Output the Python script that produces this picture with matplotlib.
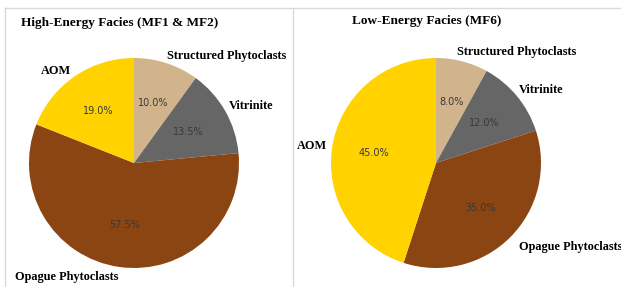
import matplotlib
matplotlib.use("Agg")
import matplotlib.pyplot as plt
from matplotlib.lines import Line2D

# data
categories = ["Structured Phytoclasts", "Vitrinite", "Opague Phytoclasts", "AOM"]
high_energy = [10.0, 13.5, 57.5, 19.0]
low_energy = [8.0, 12.0, 35.0, 45.0]
titles = ["High-Energy Facies (MF1 & MF2)", "Low-Energy Facies (MF6)"]
colors = ["#D2B48C", "#666666", "#8B4513", "#FFD200"]

W, H = 621, 287
fig = plt.figure(figsize=(W / 100, H / 100), dpi=100)


def px(x, y):
    # pixel coords (top-left origin) -> figure fraction
    return x / W, 1 - y / H


# panel frame lines
for (x0, y0), (x1, y1) in [((5, 7.5), (621, 7.5)), ((5, 7.5), (5, 287)),
                           ((292.5, 7.5), (292.5, 287))]:
    a, b = px(x0, y0)
    c, d = px(x1, y1)
    fig.add_artist(Line2D([a, c], [b, d], color="#d9d9d9", lw=1.0,
                          transform=fig.transFigure))

R = 105
centers = [(134, 163), (436, 163)]
title_pos = [(21, 23), (352, 21)]
label_pos = [
    [(167, 56), (229, 106), (15, 277), (41, 71)],
    [(457, 52), (519, 90), (519, 247), (297, 146)],
]

for i, vals in enumerate([high_energy, low_energy]):
    cx, cy = centers[i]
    ax = fig.add_axes([(cx - R) / W, (H - cy - R) / H, 2 * R / W, 2 * R / H])
    wedges, texts, autotexts = ax.pie(
        vals, colors=colors, startangle=90, counterclock=False,
        autopct="%1.1f%%", pctdistance=0.6,
        textprops=dict(fontsize=7, color="#383838", family="DejaVu Sans"))
    ax.set_aspect("equal")
    ax.set_xlim(-1, 1)
    ax.set_ylim(-1, 1)
    ax.axis("off")

    tx, ty = px(*title_pos[i])
    fig.text(tx, ty, titles[i], fontsize=9.5, fontweight="bold",
             family="Liberation Serif", ha="left", va="center")
    for name, (lx, ly) in zip(categories, label_pos[i]):
        fx, fy = px(lx, ly)
        fig.text(fx, fy, name, fontsize=8.8, fontweight="bold",
                 family="Liberation Serif", ha="left", va="center")

fig.savefig("out.png", dpi=100)
